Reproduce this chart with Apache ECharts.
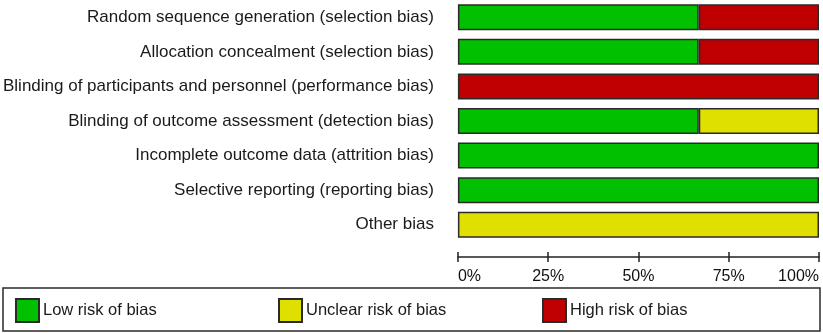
<!DOCTYPE html>
<html>
<head>
<meta charset="utf-8">
<script src="https://cdn.jsdelivr.net/npm/echarts@6/dist/echarts.min.js"></script>
<style>
  html, body { margin: 0; padding: 0; background: #fff; }
  #chart { width: 823px; height: 333px; }
</style>
</head>
<body>
<div id="chart"></div>
<script>
// risk of bias domains, top to bottom
const domains = [
  'Random sequence generation (selection bias)',
  'Allocation concealment (selection bias)',
  'Blinding of participants and personnel (performance bias)',
  'Blinding of outcome assessment (detection bias)',
  'Incomplete outcome data (attrition bias)',
  'Selective reporting (reporting bias)',
  'Other bias'
];
// percentages per judgement
const lowRisk     = [66.7, 66.7, 0, 66.7, 100, 100, 0];
const unclearRisk = [0, 0, 0, 33.3, 0, 0, 100];
const highRisk    = [33.3, 33.3, 100, 0, 0, 0, 0];
const tickValues  = [0, 25, 50, 75, 100];

const font = 'Liberation Sans, Arial, Helvetica, sans-serif';
const chart = echarts.init(document.getElementById('chart'));

// zero segments are skipped so their borders don't show up as stray lines
const noZero = arr => arr.map(v => (v === 0 ? '-' : v));

function barSeries(name, data, color) {
  return {
    name: name,
    type: 'bar',
    stack: 'rob',
    barWidth: 26,
    data: noZero(data),
    itemStyle: { color: color, borderColor: '#2a2a2a', borderWidth: 1.5 },
    emphasis: { disabled: true },
    animation: false
  };
}

function legendAt(name, left) {
  return {
    data: [name],
    left: left,
    top: 298,
    icon: 'rect',
    itemWidth: 23,
    itemHeight: 23,
    itemGap: 0,
    selectedMode: false,
    textStyle: { fontFamily: font, fontSize: 16.5, color: '#1a1a1a', padding: [0, 0, 0, -1] },
    padding: 0
  };
}

const option = {
  backgroundColor: '#fff',
  grid: { left: 457, right: 4, top: -2.5, height: 244.5 },
  legend: [
    legendAt('Low risk of bias', 15),
    legendAt('Unclear risk of bias', 278),
    legendAt('High risk of bias', 542)
  ],
  graphic: [{
    type: 'rect',
    shape: { x: 3, y: 288, width: 817, height: 43 },
    style: { fill: 'none', stroke: '#2a2a2a', lineWidth: 1.5 },
    silent: true
  }],
  xAxis: [{
    type: 'value',
    min: 0,
    max: 100,
    interval: 25,
    offset: 15,
    splitLine: { show: false },
    axisLine: { show: true, lineStyle: { color: '#222', width: 1.5 } },
    axisTick: { show: true, length: 5, lineStyle: { color: '#222', width: 1.5 } },
    axisLabel: {
      margin: 12,
      fontFamily: font,
      fontSize: 16,
      color: '#111',
      alignMinLabel: 'left',
      alignMaxLabel: 'right',
      formatter: v => (tickValues.includes(v) ? v + '%' : '')
    }
  }, {
    type: 'value',
    min: 0,
    max: 100,
    interval: 25,
    offset: 15,
    position: 'bottom',
    splitLine: { show: false },
    axisLine: { show: false },
    axisTick: { show: true, inside: true, length: 5, lineStyle: { color: '#222', width: 1.5 } },
    axisLabel: { show: false }
  }],
  yAxis: {
    type: 'category',
    data: domains,
    inverse: true,
    axisLine: { show: false },
    axisTick: { show: false },
    axisLabel: { margin: 24, fontFamily: font, fontSize: 17, color: '#1a1a1a' }
  },
  series: [
    barSeries('Low risk of bias', lowRisk, '#00c000'),
    barSeries('Unclear risk of bias', unclearRisk, '#e0e000'),
    barSeries('High risk of bias', highRisk, '#c00000')
  ]
};

chart.setOption(option);
</script>
</body>
</html>
